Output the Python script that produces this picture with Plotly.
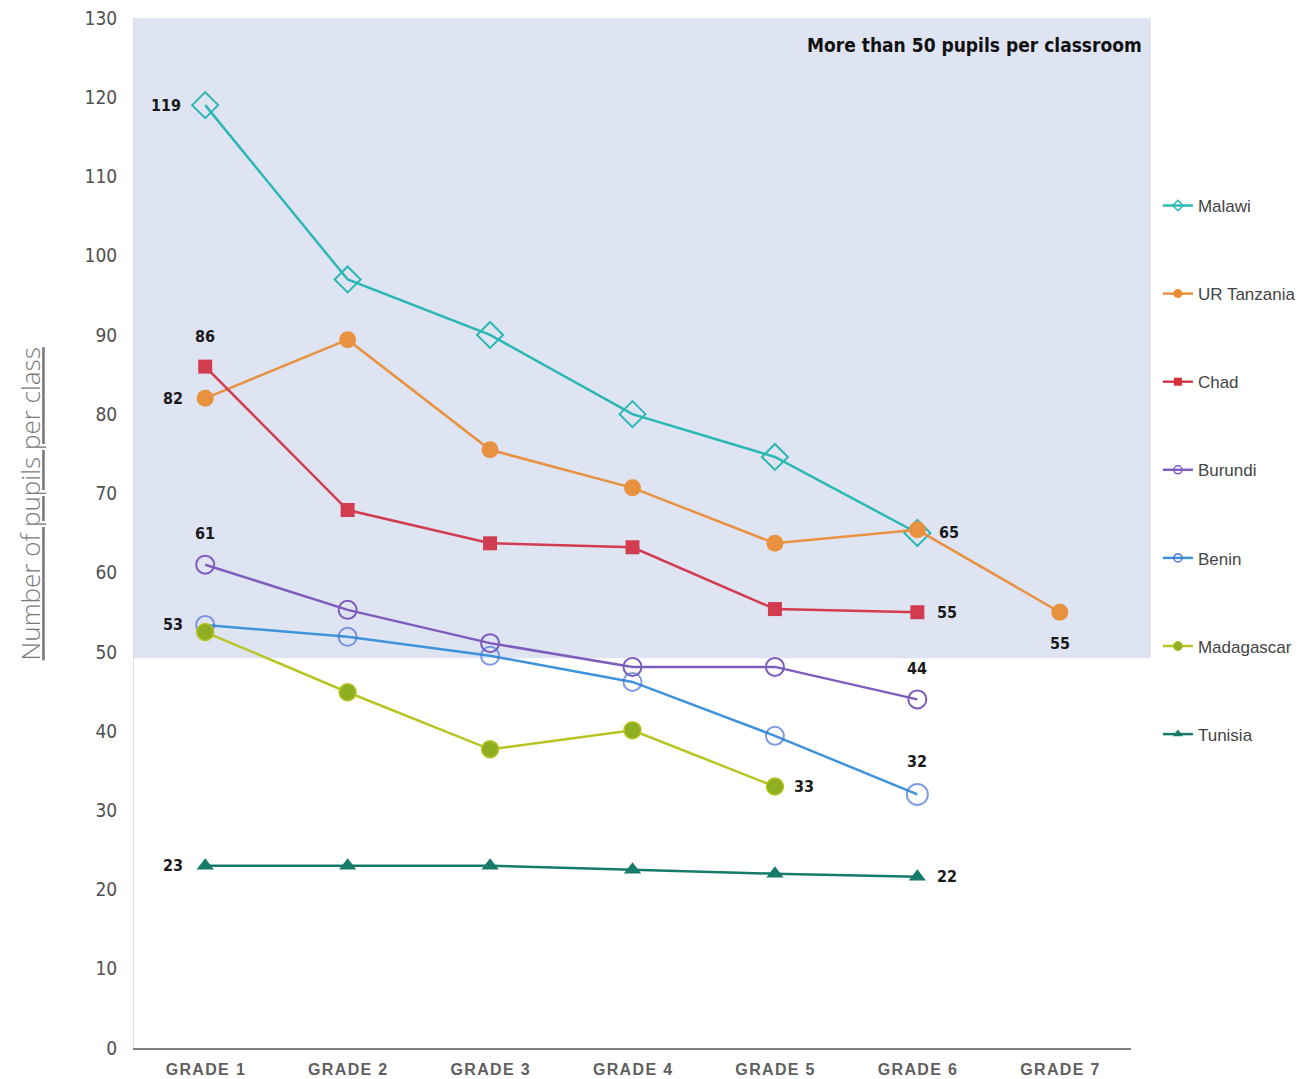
import plotly.graph_objects as go

grades = ["GRADE 1", "GRADE 2", "GRADE 3", "GRADE 4", "GRADE 5", "GRADE 6", "GRADE 7"]
y_ticks = [0, 10, 20, 30, 40, 50, 60, 70, 80, 90, 100, 110, 120, 130]

malawi = [119, 97, 90, 80, 74.6, 65]
ur_tanzania = [82, 89.4, 75.5, 70.7, 63.7, 65.4, 55]
chad = [86, 67.9, 63.7, 63.2, 55.4, 55]
burundi = [61, 55.3, 51.1, 48.1, 48.1, 44]
benin = [53.4, 51.9, 49.5, 46.2, 39.4, 32]
madagascar = [52.5, 44.9, 37.7, 40.1, 33]
tunisia = [23, 23.0, 23.0, 22.5, 22.0, 21.6]

crowded_threshold = 49.2
band_title = "More than 50 pupils per classroom"
y_title = "Number of pupils per class"

NARROW = "Liberation Sans Narrow, DejaVu Sans Condensed, Arial Narrow, sans-serif"

series = [
    ("Malawi", malawi, dict(symbol="diamond-open", size=20, color="#2bb8b3", line=dict(width=2, color="#2bb8b3")),
     dict(symbol="diamond-open", size=8, color="#2bb8b3", line=dict(width=1.5, color="#2bb8b3")), "#2bb8b3"),
    ("UR Tanzania", ur_tanzania, dict(symbol="circle", size=17, color="#e8913f", line=dict(width=0)),
     dict(symbol="circle", size=9, color="#f08a30", line=dict(width=0)), "#e8913f"),
    ("Chad", chad, dict(symbol="square", size=14, color="#d13c50", line=dict(width=0)),
     dict(symbol="square", size=8, color="#d62f3b", line=dict(width=0)), "#d13c50"),
    ("Burundi", burundi, dict(symbol="circle-open", size=18, color="#7d5cbc", line=dict(width=2, color="#7d5cbc")),
     dict(symbol="circle-open", size=8, color="#7d5cbc", line=dict(width=1.5, color="#7d5cbc")), "#7d5cbc"),
    ("Benin", benin, dict(symbol="circle-open", size=[18, 18, 18, 18, 18, 21], color="#4a72d2", line=dict(width=2, color="#4a72d2")),
     dict(symbol="circle-open", size=8, color="#4a72d2", line=dict(width=1.5, color="#4a72d2")), "#3d93dc"),
    ("Madagascar", madagascar, dict(symbol="circle", size=17, color="#8faf22", line=dict(width=1.5, color="#b7c522")),
     dict(symbol="circle", size=9, color="#8faf22", line=dict(width=1, color="#b7c522")), "#b7c522"),
    ("Tunisia", tunisia, dict(symbol="triangle-up", size=15, color="#167b69", line=dict(width=0)),
     dict(symbol="triangle-up", size=9, color="#167b69", line=dict(width=0)), "#167b69"),
]

fig = go.Figure()
for name, vals, marker, legend_marker, lcolor in series:
    fig.add_trace(go.Scatter(
        x=list(range(1, len(vals) + 1)), y=vals, name=name,
        mode="lines+markers",
        line=dict(color=lcolor, width=2.5),
        marker=marker,
        legendgroup=name, showlegend=False,
        cliponaxis=False,
    ))
    # legend entry with a small marker symbol
    fig.add_trace(go.Scatter(
        x=[None], y=[None], name=name, mode="lines+markers",
        line=dict(color=lcolor, width=2.5), marker=legend_marker,
        legendgroup=name, showlegend=True,
    ))

# value labels: (series values, index, anchor, xshift, yshift)
label_specs = [
    (malawi, 0, "right", -22, 0),
    (chad, 0, "center", 0, 30),
    (ur_tanzania, 0, "right", -20, 0),
    (burundi, 0, "center", 0, 31),
    (benin, 0, "right", -20, 0),
    (tunisia, 0, "right", -20, 0),
    (ur_tanzania, 5, "left", 20, -3),
    (chad, 5, "left", 18, 0),
    (ur_tanzania, 6, "center", 0, -31),
    (burundi, 5, "center", 0, 31),
    (benin, 5, "center", 0, 33),
    (madagascar, 4, "left", 17, 0),
    (tunisia, 5, "left", 18, 0),
]
label_font = dict(family=NARROW, size=16, color="#1a1a1a", weight="bold")
annotations = []
for vals, idx, anchor, dx, dy in label_specs:
    annotations.append(dict(
        x=idx + 1, y=vals[idx], xref="x", yref="y",
        text=str(int(round(vals[idx]))), showarrow=False,
        xanchor=anchor, yanchor="middle", xshift=dx, yshift=dy,
        font=label_font,
    ))

annotations.append(dict(
    x=1.013, y=126.6, xref="paper", yref="y", text=band_title,
    showarrow=False, xanchor="right", yanchor="middle",
    font=dict(family=NARROW, size=19, color="#111111", weight="bold"),
))
annotations.append(dict(
    x=-0.104, y=0.528, xref="paper", yref="paper", text="<u>" + y_title + "</u>",
    showarrow=False, textangle=-90, xanchor="center", yanchor="middle",
    font=dict(family="Open Sans, Liberation Sans, sans-serif", size=26, color="#7a7a7a", weight=300),
))

shapes = [dict(
    type="rect", xref="paper", yref="y", x0=0, x1=1.02, y0=crowded_threshold, y1=130,
    fillcolor="#dfe4f3", line=dict(width=0), layer="below",
)]

spaced = ["\u200a".join(list(g)) for g in grades]

fig.update_layout(
    width=1313, height=1079,
    margin=dict(l=134, r=178, t=18, b=31),
    paper_bgcolor="white", plot_bgcolor="white",
    showlegend=True,
    legend=dict(
        x=1.027, y=0.835, xanchor="left", yanchor="top",
        font=dict(family="Liberation Sans, Arial, sans-serif", size=17, color="#444444"),
        tracegroupgap=63, itemwidth=30, bgcolor="rgba(0,0,0,0)",
    ),
    annotations=annotations,
    shapes=shapes,
    xaxis=dict(
        range=[0.5, 7.5], tickvals=list(range(1, 8)), ticktext=spaced,
        showgrid=False, zeroline=False, showline=True, linecolor="#7f7f7f", linewidth=2,
        ticks="", ticklabelstandoff=6, automargin=False,
        tickfont=dict(family="Liberation Sans, Arial, sans-serif", size=16, color="#5f5f5f", weight="bold"),
    ),
    yaxis=dict(
        range=[0, 130], tickvals=y_ticks, showgrid=False, zeroline=False,
        showline=True, linecolor="#d8dbe3", linewidth=1, ticks="", ticklabelstandoff=12,
        automargin=False,
        tickfont=dict(family=NARROW, size=19, color="#505050"),
    ),
)

fig.write_html("out.html")
